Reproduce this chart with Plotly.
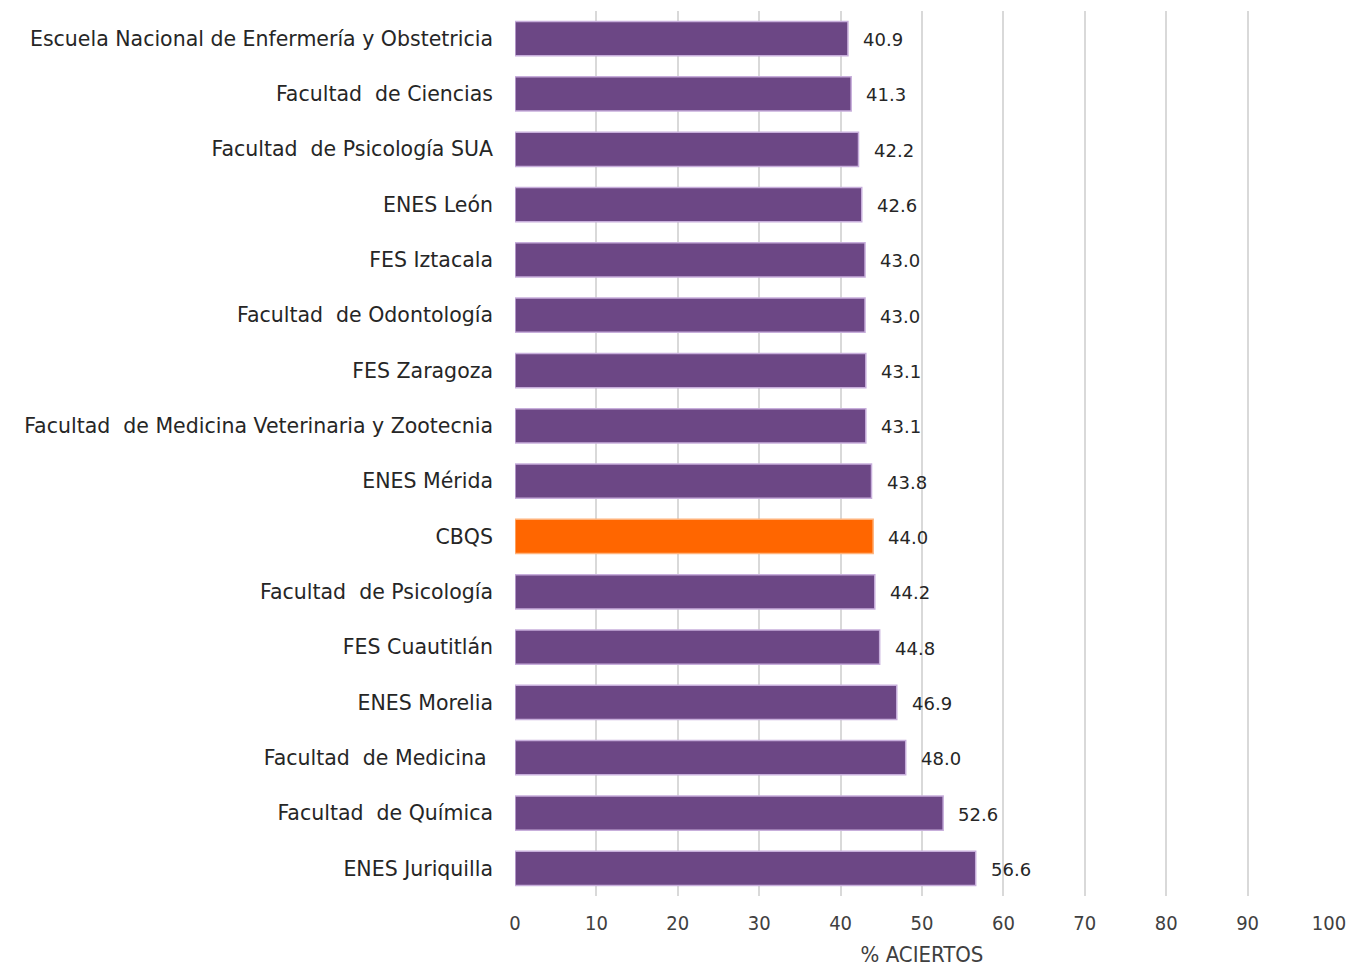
import plotly.graph_objects as go

categories = [
    "Escuela Nacional de Enfermería y Obstetricia",
    "Facultad\u00a0 de Ciencias",
    "Facultad\u00a0 de Psicología SUA",
    "ENES León",
    "FES Iztacala",
    "Facultad\u00a0 de Odontología",
    "FES Zaragoza",
    "Facultad\u00a0 de Medicina Veterinaria y Zootecnia",
    "ENES Mérida",
    "CBQS",
    "Facultad\u00a0 de Psicología",
    "FES Cuautitlán",
    "ENES Morelia",
    "Facultad\u00a0 de Medicina\u00a0",
    "Facultad\u00a0 de Química",
    "ENES Juriquilla",
]
values = [40.9, 41.3, 42.2, 42.6, 43.0, 43.0, 43.1, 43.1, 43.8, 44.0, 44.2, 44.8, 46.9, 48.0, 52.6, 56.6]
labels = ["40.9", "41.3", "42.2", "42.6", "43.0", "43.0", "43.1", "43.1", "43.8", "44.0", "44.2", "44.8", "46.9", "48.0", "52.6", "56.6"]
highlight = "CBQS"
x_ticks = [0, 10, 20, 30, 40, 50, 60, 70, 80, 90, 100]

PURPLE = "#6C4785"
PURPLE_EDGE = "#C7AEDB"
ORANGE = "#FF6600"
ORANGE_EDGE = "#FFB27A"
CAT_FONT = "DejaVu Sans, sans-serif"
NARROW = "DejaVu Sans Condensed, DejaVu Sans, sans-serif"

colors = [ORANGE if c == highlight else PURPLE for c in categories]
edges = [ORANGE_EDGE if c == highlight else PURPLE_EDGE for c in categories]

fig = go.Figure()
fig.add_trace(go.Bar(
    y=categories, x=values, orientation="h",
    marker=dict(color=colors, line=dict(color=edges, width=1.5)),
    hoverinfo="x+y",
))

for c, v, t in zip(categories, values, labels):
    fig.add_annotation(x=v, y=c, text=t, showarrow=False, xanchor="left",
                       xshift=13, yshift=-1,
                       font=dict(family=CAT_FONT, size=18, color="#262626"))

fig.update_layout(
    width=1351, height=967,
    margin=dict(l=515, r=22, t=11, b=71, autoexpand=False),
    paper_bgcolor="white", plot_bgcolor="white",
    bargap=0.38,
    showlegend=False,
    font=dict(family=CAT_FONT, color="#262626"),
    xaxis=dict(
        range=[0, 100], tickvals=x_ticks, showgrid=True, gridcolor="#D9D9D9", gridwidth=1.5,
        zeroline=False, showline=False, ticks="", automargin=False,
        ticklabelstandoff=13,
        tickfont=dict(family=NARROW, size=20, color="#404040"),
        title=dict(text="% ACIERTOS", standoff=19,
                   font=dict(family=NARROW, size=22, color="#404040")),
    ),
    yaxis=dict(
        autorange="reversed", showgrid=False, showline=False, ticks="", automargin=False,
        ticklabelstandoff=21,
        tickfont=dict(family=CAT_FONT, size=20.5, color="#262626"),
    ),
)

fig.write_html(
    "out.html",
    config={"displayModeBar": False},
    post_script="document.body.style.margin='0';document.body.style.overflow='hidden';",
)
